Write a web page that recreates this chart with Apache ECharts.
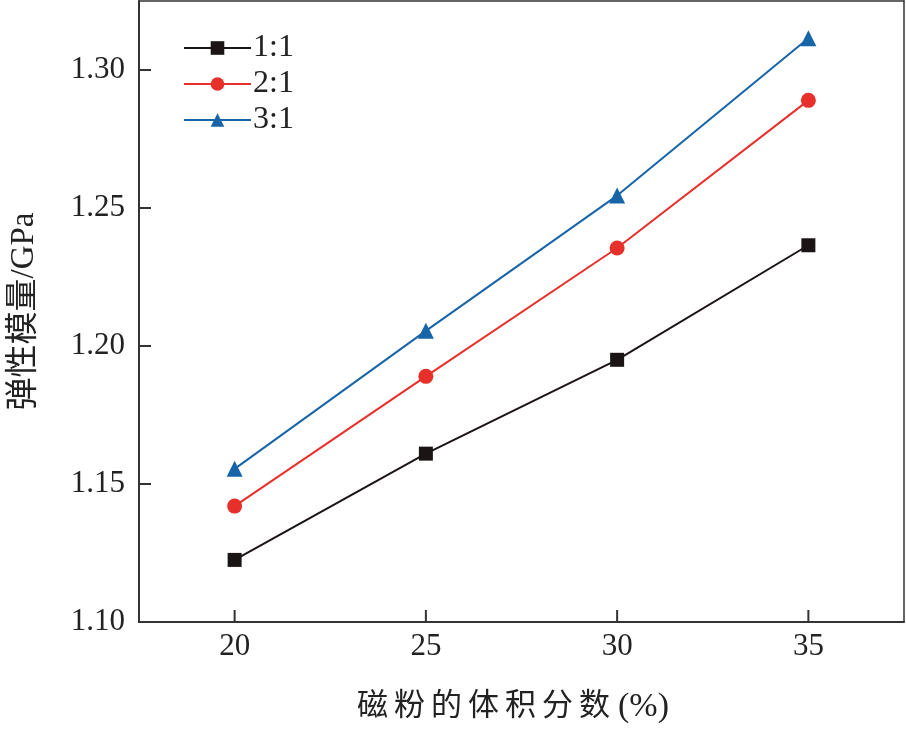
<!DOCTYPE html>
<html>
<head>
<meta charset="utf-8">
<style>html,body{margin:0;padding:0;background:#fff;}#c{width:906px;height:730px;}</style>
<script src="https://cdn.jsdelivr.net/npm/echarts@6/dist/echarts.min.js"></script>
</head>
<body>
<div id="c"></div>
<script>
const xValues = [20, 25, 30, 35];
const yTicks = [1.10, 1.15, 1.20, 1.25, 1.30];
const seriesNames = ['1:1', '2:1', '3:1'];
const s11 = [1.1225, 1.1610, 1.1950, 1.2365];
const s21 = [1.1420, 1.1890, 1.2355, 1.2890];
const s31 = [1.1555, 1.2055, 1.2545, 1.3115];
const xTitleChars = ['磁', '粉', '的', '体', '积', '分', '数', '(%)'];
const yTitle = '弹性模量/GPa';

const X_MIN = 17.5, X_MAX = 37.5, Y_MIN = 1.10, Y_MAX = 1.325;
const font = '"Liberation Serif", "Times New Roman", "Noto Sans CJK SC", serif';
const colors = ['#1a1414', '#e8302a', '#1764a8'];
const symbols = ['rect', 'circle', 'triangle'];
const sizes = [14, 15, 16];
const dataSets = [s11, s21, s31];
const TICK_LEN = 12;

const xTitle = xTitleChars.map((c, i) => '{' + (i < 7 ? 'c' : 'p') + '|' + c + '}').join('');
const frameAxis = { show: true, axisLine: { show: true, lineStyle: { color: '#333', width: 1.5 } }, axisTick: { show: false }, axisLabel: { show: false }, splitLine: { show: false } };

function tickSeries(name, data, dir) {
  return {
    name: name, type: 'custom', silent: true, clip: false, z: 10,
    data: data,
    renderItem: function (params, api) {
      const p = api.coord([api.value(0), api.value(1)]);
      const x2 = dir === 'x' ? p[0] : p[0] + TICK_LEN;
      const y2 = dir === 'x' ? p[1] - TICK_LEN : p[1];
      return { type: 'line', shape: { x1: p[0], y1: p[1], x2: x2, y2: y2 }, style: { stroke: '#333', lineWidth: 2 } };
    }
  };
}

const chart = echarts.init(document.getElementById('c'));
chart.setOption({
  animation: false,
  backgroundColor: '#fff',
  grid: { left: 139, right: 2, top: 1, bottom: 108, containLabel: false },
  legend: {
    orient: 'vertical', left: 178, top: 27,
    itemWidth: 67, itemHeight: 17, itemGap: 4,
    textStyle: { fontFamily: font, fontSize: 32, lineHeight: 32, color: '#222', padding: [0, 0, 0, -3] },
    data: seriesNames
  },
  xAxis: [{
    type: 'value', min: X_MIN, max: X_MAX, position: 'bottom',
    name: xTitle, nameLocation: 'middle', nameGap: 68,
    nameTextStyle: {
      fontFamily: font, fontSize: 31, color: '#222',
      rich: {
        c: { fontFamily: font, fontSize: 31, color: '#222', padding: [0, 3, 0, 3] },
        p: { fontFamily: font, fontSize: 34, color: '#222', padding: [0, 20, 0, 5] }
      }
    },
    axisLine: { show: true, lineStyle: { color: '#333', width: 2 } },
    axisTick: { show: false },
    axisLabel: { customValues: xValues, fontFamily: font, fontSize: 31, color: '#222', margin: 9 },
    splitLine: { show: false }
  },
  Object.assign({ type: 'value', min: X_MIN, max: X_MAX, position: 'top' }, frameAxis)],
  yAxis: [{
    type: 'value', min: Y_MIN, max: Y_MAX, interval: 0.05, position: 'left',
    name: yTitle, nameLocation: 'middle', nameGap: 98, nameRotate: 90,
    nameTextStyle: { fontFamily: font, fontSize: 33, color: '#222' },
    axisLine: { show: true, lineStyle: { color: '#333', width: 2 } },
    axisTick: { show: false },
    axisLabel: { showMaxLabel: false, fontFamily: font, fontSize: 31, color: '#222', margin: 14, formatter: v => v.toFixed(2) },
    splitLine: { show: false }
  },
  Object.assign({ type: 'value', min: Y_MIN, max: Y_MAX, position: 'right' }, frameAxis)],
  series: seriesNames.map((n, i) => ({
    name: n, type: 'line',
    data: xValues.map((x, j) => [x, dataSets[i][j]]),
    symbol: symbols[i], symbolSize: sizes[i], showSymbol: true,
    itemStyle: { color: colors[i] },
    lineStyle: { color: colors[i], width: 2 }
  })).concat([
    tickSeries('xTicks', xValues.map(v => [v, Y_MIN]), 'x'),
    tickSeries('yTicks', yTicks.map(v => [X_MIN, v]), 'y')
  ])
});
</script>
</body>
</html>
